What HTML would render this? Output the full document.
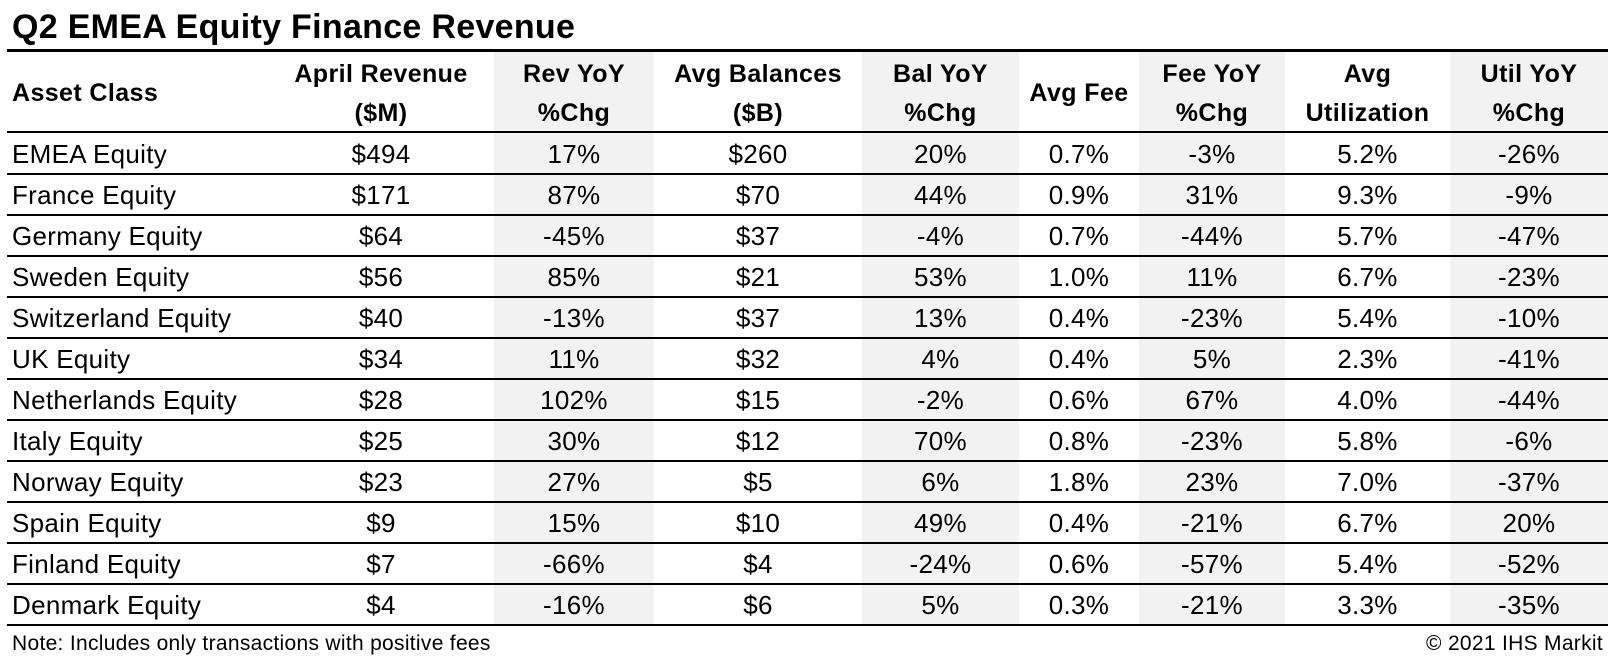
<!DOCTYPE html>
<html><head><meta charset="utf-8"><style>
body{margin:0;width:1617px;height:669px;background:#fff;position:relative;overflow:hidden;font-family:"Liberation Sans",sans-serif;color:#000}
.t{position:absolute;left:12px;top:7px;font-size:34px;font-weight:bold;letter-spacing:0.3px;line-height:40px}
.sh{position:absolute;top:50px;height:574px;background:#f2f2f2}
.hl{position:absolute;left:7px;width:1601px;background:#000}
.c{position:absolute;text-align:center;white-space:nowrap}
.h{font-weight:bold;font-size:25px;letter-spacing:0.4px;line-height:39px}
.d{font-size:26px;letter-spacing:0.3px;line-height:41px}
.f{position:absolute;top:631px;font-size:21px;letter-spacing:.3px;line-height:26px}
</style></head><body>
<div class="t">Q2 EMEA Equity Finance Revenue</div>
<div class="sh" style="left:494px;width:160px"></div>
<div class="sh" style="left:862px;width:157px"></div>
<div class="sh" style="left:1139px;width:146px"></div>
<div class="sh" style="left:1450px;width:158px"></div>
<div class="hl" style="top:49px;height:3px"></div>
<div class="hl" style="top:131px;height:2px"></div>
<div id="rows"></div>
<div class="f" style="left:12px">Note: Includes only transactions with positive fees</div>
<div class="f" style="right:14px">© 2021 IHS Markit</div>
<script>
var cols=[[7,268,'left'],[268,494],[494,654],[654,862],[862,1019],[1019,1139],[1139,1285],[1285,1450],[1450,1608]];
var hdr=[['Asset Class'],['April Revenue','($M)'],['Rev YoY','%Chg'],['Avg Balances','($B)'],['Bal YoY','%Chg'],['Avg Fee'],['Fee YoY','%Chg'],['Avg','Utilization'],['Util YoY','%Chg']];
var data=[
['EMEA Equity','$494','17%','$260','20%','0.7%','-3%','5.2%','-26%'],
['France Equity','$171','87%','$70','44%','0.9%','31%','9.3%','-9%'],
['Germany Equity','$64','-45%','$37','-4%','0.7%','-44%','5.7%','-47%'],
['Sweden Equity','$56','85%','$21','53%','1.0%','11%','6.7%','-23%'],
['Switzerland Equity','$40','-13%','$37','13%','0.4%','-23%','5.4%','-10%'],
['UK Equity','$34','11%','$32','4%','0.4%','5%','2.3%','-41%'],
['Netherlands Equity','$28','102%','$15','-2%','0.6%','67%','4.0%','-44%'],
['Italy Equity','$25','30%','$12','70%','0.8%','-23%','5.8%','-6%'],
['Norway Equity','$23','27%','$5','6%','1.8%','23%','7.0%','-37%'],
['Spain Equity','$9','15%','$10','49%','0.4%','-21%','6.7%','20%'],
['Finland Equity','$7','-66%','$4','-24%','0.6%','-57%','5.4%','-52%'],
['Denmark Equity','$4','-16%','$6','5%','0.3%','-21%','3.3%','-35%']];
var h='';
hdr.forEach(function(lines,i){var c=cols[i];var L=c[2]?c[0]+5:c[0];var al=c[2]||'center';
 if(lines.length==1){h+='<div class="c h" style="left:'+L+'px;width:'+(c[1]-c[0])+'px;text-align:'+al+';top:74px">'+lines[0]+'</div>';}
 else{h+='<div class="c h" style="left:'+L+'px;width:'+(c[1]-c[0])+'px;top:55px">'+lines[0]+'</div>';
 h+='<div class="c h" style="left:'+L+'px;width:'+(c[1]-c[0])+'px;top:94px">'+lines[1]+'</div>';}});
data.forEach(function(r,j){var top=132+j*41.0;
 r.forEach(function(v,i){var c=cols[i];var L=c[2]?c[0]+5:c[0];
 h+='<div class="c d" style="left:'+L+'px;width:'+(c[1]-c[0])+'px;text-align:'+(c[2]||'center')+';top:'+(top+2)+'px">'+v+'</div>';});
 h+='<div class="hl" style="top:'+(top+40.5)+'px;height:2px"></div>';});
document.getElementById('rows').innerHTML=h;
</script>
</body></html>
